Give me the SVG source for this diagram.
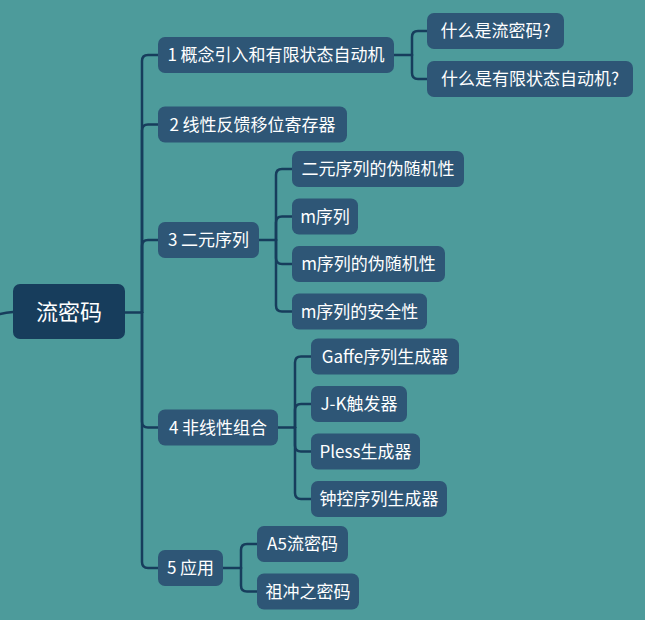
<svg xmlns="http://www.w3.org/2000/svg" width="645" height="620" viewBox="0 0 645 620">
<style>
.n rect{fill:#2e5676}
.root rect{fill:#173d5c}
text{fill:#ffffff;font-family:"Noto Sans CJK SC","Noto Sans",sans-serif;font-size:17px;text-anchor:middle}
.root text{font-size:22px}
.c path{fill:none;stroke:#173d5c;stroke-width:2.5;stroke-linecap:round}
</style>
<rect x="0" y="0" width="645" height="620" fill="#4d9b9b"/>
<g class="c" id="connectors">
<path d="M0,314 Q6,312.5 13,312"/>
<path d="M125,312.5 H142"/>
<path d="M142,312.5 V61 Q142,55 148,55 H158"/>
<path d="M142,312.5 V130.5 Q142,124.5 148,124.5 H158"/>
<path d="M142,312.5 V246 Q142,240 148,240 H158"/>
<path d="M142,312.5 V421.5 Q142,427.5 148,427.5 H158"/>
<path d="M142,312.5 V562 Q142,568 148,568 H158"/>
<path d="M394,55 H412"/>
<path d="M412,55 V37 Q412,31 418,31 H427"/>
<path d="M412,55 V73 Q412,79 418,79 H427"/>
<path d="M259,240 H276"/>
<path d="M276,240 V175 Q276,169 282,169 H292"/>
<path d="M276,240 V222.5 Q276,216.5 282,216.5 H292"/>
<path d="M276,240 V258 Q276,264 282,264 H292"/>
<path d="M276,240 V305.5 Q276,311.5 282,311.5 H292"/>
<path d="M278,427.5 H295"/>
<path d="M295,427.5 V362.5 Q295,356.5 301,356.5 H311"/>
<path d="M295,427.5 V410 Q295,404 301,404 H311"/>
<path d="M295,427.5 V445.5 Q295,451.5 301,451.5 H311"/>
<path d="M295,427.5 V493 Q295,499 301,499 H311"/>
<path d="M223,568 H241"/>
<path d="M241,568 V550 Q241,544 247,544 H257"/>
<path d="M241,568 V585.5 Q241,591.5 247,591.5 H257"/>
</g>
<g class="root" id="root"><rect x="13" y="284" width="112" height="55" rx="7"/><text x="69" y="320">流密码</text></g>
<g class="n" id="n1"><rect x="158" y="37" width="236" height="36" rx="7"/><text x="276" y="61">1 概念引入和有限状态自动机</text></g>
<g class="n" id="n1a"><rect x="427" y="13" width="137" height="36" rx="7"/><text x="495.5" y="37">什么是流密码?</text></g>
<g class="n" id="n1b"><rect x="427" y="61" width="206" height="36" rx="7"/><text x="530" y="85">什么是有限状态自动机?</text></g>
<g class="n" id="n2"><rect x="158" y="106.5" width="189" height="36" rx="7"/><text x="252.5" y="130.5">2 线性反馈移位寄存器</text></g>
<g class="n" id="n3"><rect x="158" y="222" width="101" height="36" rx="7"/><text x="208.5" y="246">3 二元序列</text></g>
<g class="n" id="n3a"><rect x="292" y="151" width="172" height="36" rx="7"/><text x="378" y="175">二元序列的伪随机性</text></g>
<g class="n" id="n3b"><rect x="292" y="198.5" width="66" height="36" rx="7"/><text x="325" y="222.5">m序列</text></g>
<g class="n" id="n3c"><rect x="292" y="246" width="153" height="36" rx="7"/><text x="368.5" y="270">m序列的伪随机性</text></g>
<g class="n" id="n3d"><rect x="292" y="293.5" width="135" height="36" rx="7"/><text x="359.5" y="317.5">m序列的安全性</text></g>
<g class="n" id="n4"><rect x="158" y="409.5" width="120" height="36" rx="7"/><text x="218" y="433.5">4 非线性组合</text></g>
<g class="n" id="n4a"><rect x="311" y="338.5" width="148" height="36" rx="7"/><text x="385" y="362.5">Gaffe序列生成器</text></g>
<g class="n" id="n4b"><rect x="311" y="386" width="96" height="36" rx="7"/><text x="359" y="410">J-K触发器</text></g>
<g class="n" id="n4c"><rect x="311" y="433.5" width="109" height="36" rx="7"/><text x="365.5" y="457.5">Pless生成器</text></g>
<g class="n" id="n4d"><rect x="311" y="481" width="136" height="36" rx="7"/><text x="379" y="505">钟控序列生成器</text></g>
<g class="n" id="n5"><rect x="158" y="550" width="65" height="36" rx="7"/><text x="190.5" y="574">5 应用</text></g>
<g class="n" id="n5a"><rect x="257" y="526" width="91" height="36" rx="7"/><text x="302.5" y="550">A5流密码</text></g>
<g class="n" id="n5b"><rect x="257" y="573.5" width="102" height="36" rx="7"/><text x="308" y="597.5">祖冲之密码</text></g>
</svg>
